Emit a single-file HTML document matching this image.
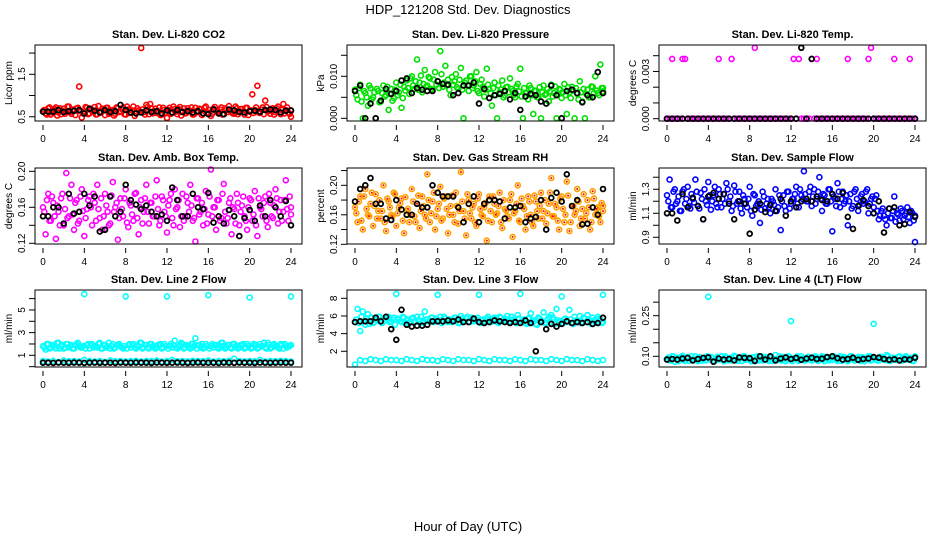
<!DOCTYPE html>
<html><head><meta charset="utf-8">
<style>
html,body{margin:0;padding:0;background:#fff;}
svg{display:block;font-family:"Liberation Sans",sans-serif;}
</style></head>
<body>
<svg id="chart" width="936" height="540" viewBox="0 0 936 540">
<text x="468" y="14" text-anchor="middle" font-size="13">HDP_121208  Std. Dev. Diagnostics</text>
<text x="468" y="531" text-anchor="middle" font-size="13">Hour of Day (UTC)</text>
</svg>
<script>
// ---- data ----
const xTicks = [0,4,8,12,16,20,24];

const co2Color = [0.63,0.58,0.70,0.55,0.66,0.72,0.60,0.56,0.69,0.62,0.74,0.57,0.65,0.70,1.21,0.48,0.63,0.71,0.58,0.66,0.73,0.56,0.62,0.69,0.54,0.71,0.60,0.66,0.57,0.70,0.63,0.72,0.55,0.67,0.60,0.74,0.58,0.65,2.12,0.61,0.78,0.56,0.70,0.63,0.59,0.72,0.55,0.66,0.47,0.71,0.60,0.68,0.56,0.73,0.62,0.58,0.70,0.64,0.55,0.71,0.61,0.67,0.57,0.74,0.60,0.52,0.69,0.63,0.58,0.72,0.56,0.66,0.75,0.60,0.57,0.70,0.63,0.68,0.55,0.71,0.62,1.03,0.66,1.23,0.59,0.72,0.88,0.64,0.57,0.70,0.61,0.74,0.56,0.80,0.66,0.60,0.50];
const co2Color2 = [0.66,0.55,0.72,0.60,0.68,0.53,0.70,0.64,0.57,0.74,0.61,0.67,0.54,0.71,0.63,0.58,0.73,0.56,0.69,0.62,0.55,0.75,0.60,0.66,0.71,0.57,0.64,0.53,0.72,0.61,0.68,0.56,0.74,0.59,0.65,0.52,0.70,0.62,0.67,0.55,0.73,0.80,0.58,0.69,0.63,0.54,0.71,0.60,0.66,0.57,0.74,0.62,0.68,0.53,0.70,0.59,0.65,0.72,0.56,0.63,0.69,0.54,0.71,0.60,0.66,0.57,0.73,0.62,0.67,0.55,0.70,0.61,0.64,0.58,0.74,0.56,0.68,0.62,0.71,0.54,0.65,0.59,0.72,0.60,0.67,0.56,0.73,0.63,0.69,0.55,0.70,0.61,0.66,0.58,0.72,0.57,0.64];
const co2Black = [0.62,0.62,0.62,0.66,0.61,0.63,0.64,0.66,0.58,0.69,0.64,0.60,0.66,0.61,0.63,0.78,0.66,0.60,0.58,0.60,0.65,0.61,0.63,0.58,0.65,0.60,0.66,0.61,0.63,0.60,0.63,0.58,0.56,0.67,0.58,0.56,0.67,0.65,0.61,0.60,0.63,0.64,0.62,0.66,0.67,0.66,0.60,0.64,0.65];
const co2Ticks = [0.5,1.0,1.5,2.0];
const co2Labels = ["0.5","","1.5",""];

const presColor = [0.0068,0.0045,0.0080,0.0000,0.0060,0.0030,0.0072,0.0050,0.0000,0.0065,0.0040,0.0078,0.0055,0.0020,0.0070,0.0048,0.0085,0.0062,0.0025,0.0075,0.0090,0.0058,0.0100,0.0070,0.0140,0.0085,0.0062,0.0115,0.0078,0.0095,0.0068,0.0110,0.0088,0.0160,0.0075,0.0125,0.0092,0.0055,0.0080,0.0105,0.0070,0.0120,0.0000,0.0090,0.0065,0.0100,0.0078,0.0110,0.0060,0.0092,0.0052,0.0118,0.0070,0.0030,0.0085,0.0000,0.0062,0.0090,0.0055,0.0075,0.0095,0.0065,0.0050,0.0082,0.0118,0.0000,0.0060,0.0045,0.0072,0.0010,0.0065,0.0050,0.0000,0.0078,0.0058,0.0040,0.0080,0.0060,0.0000,0.0070,0.0048,0.0082,0.0010,0.0062,0.0075,0.0000,0.0058,0.0088,0.0040,0.0000,0.0068,0.0050,0.0075,0.0100,0.0060,0.0128,0.0072];
const presColor2 = [0.0055,0.0072,0.0040,0.0065,0.0050,0.0078,0.0045,0.0062,0.0070,0.0038,0.0060,0.0052,0.0075,0.0058,0.0042,0.0068,0.0055,0.0080,0.0048,0.0066,0.0072,0.0095,0.0078,0.0088,0.0068,0.0102,0.0082,0.0075,0.0098,0.0070,0.0092,0.0080,0.0072,0.0105,0.0085,0.0078,0.0068,0.0098,0.0088,0.0074,0.0092,0.0068,0.0085,0.0078,0.0100,0.0072,0.0088,0.0065,0.0082,0.0075,0.0068,0.0080,0.0060,0.0072,0.0055,0.0078,0.0068,0.0050,0.0074,0.0062,0.0070,0.0056,0.0076,0.0064,0.0052,0.0072,0.0060,0.0078,0.0055,0.0066,0.0050,0.0074,0.0062,0.0056,0.0070,0.0064,0.0052,0.0076,0.0058,0.0068,0.0062,0.0055,0.0074,0.0048,0.0066,0.0072,0.0045,0.0062,0.0070,0.0058,0.0050,0.0076,0.0060,0.0066,0.0055,0.0072,0.0064];
const presBlack = [0.0065,0.0078,0.0000,0.0035,0.0000,0.0042,0.0070,0.0058,0.0065,0.0090,0.0095,0.0060,0.0072,0.0068,0.0065,0.0065,0.0088,0.0082,0.0080,0.0055,0.0060,0.0078,0.0078,0.0085,0.0035,0.0070,0.0048,0.0055,0.0058,0.0065,0.0045,0.0060,0.0020,0.0052,0.0058,0.0055,0.0040,0.0035,0.0078,0.0055,0.0000,0.0065,0.0068,0.0060,0.0038,0.0055,0.0050,0.0110,0.0060];
const presTicks = [0,0.005,0.010,0.015];
const presLabels = ["0.000","","0.010",""];

const tempColor = [0,0,0.0038,0,0,0,0.0038,0.0038,0,0,0,0,0,0,0,0,0,0,0,0,0.0038,0,0,0,0,0.0038,0,0,0,0,0,0,0,0,0.0045,0,0,0,0,0,0,0,0,0,0,0,0,0,0,0.0038,0,0.0038,0,0,0,0,0.0038,0,0.0038,0,0,0,0,0,0,0,0,0,0,0,0.0038,0,0,0,0,0,0,0,0.0038,0.0045,0,0,0,0,0,0,0,0,0.0038,0,0,0,0,0,0.0038,0,0];
const tempBlack = [0,0,0,0,0,0,0,0,0,0,0,0,0,0,0,0,0,0,0,0,0,0,0,0,0,0,0.0045,0,0.0038,0,0,0,0,0,0,0,0,0,0,0,0,0,0,0,0,0,0,0,0];
const tempTicks = [0,0.001,0.002,0.003,0.004];
const tempLabels = ["0.000","","","0.003",""];

const boxColor = [0.160,0.130,0.175,0.145,0.165,0.125,0.155,0.170,0.140,0.198,0.150,0.185,0.135,0.168,0.145,0.180,0.128,0.158,0.172,0.140,0.165,0.185,0.148,0.135,0.175,0.155,0.142,0.188,0.160,0.124,0.170,0.150,0.180,0.138,0.162,0.145,0.176,0.130,0.168,0.155,0.185,0.142,0.165,0.150,0.190,0.140,0.172,0.155,0.132,0.168,0.148,0.180,0.160,0.138,0.175,0.150,0.165,0.185,0.145,0.122,0.170,0.155,0.140,0.178,0.152,0.202,0.160,0.135,0.168,0.148,0.186,0.142,0.165,0.130,0.158,0.175,0.140,0.162,0.150,0.135,0.170,0.145,0.178,0.128,0.160,0.150,0.172,0.138,0.165,0.148,0.180,0.142,0.168,0.155,0.190,0.145,0.152];
const boxColor2 = [0.155,0.168,0.145,0.172,0.150,0.162,0.140,0.175,0.158,0.148,0.170,0.152,0.165,0.142,0.172,0.156,0.148,0.168,0.160,0.175,0.145,0.158,0.170,0.150,0.162,0.140,0.173,0.155,0.165,0.148,0.158,0.170,0.143,0.165,0.152,0.175,0.148,0.160,0.142,0.170,0.155,0.165,0.150,0.172,0.158,0.145,0.168,0.150,0.162,0.175,0.140,0.158,0.168,0.150,0.145,0.172,0.155,0.162,0.148,0.170,0.152,0.165,0.158,0.142,0.172,0.150,0.160,0.168,0.145,0.175,0.155,0.148,0.170,0.160,0.142,0.165,0.155,0.172,0.145,0.160,0.168,0.152,0.140,0.170,0.158,0.165,0.145,0.175,0.150,0.162,0.170,0.155,0.145,0.168,0.158,0.172,0.160];
const boxBlack = [0.150,0.150,0.160,0.160,0.142,0.175,0.153,0.155,0.175,0.162,0.172,0.133,0.135,0.172,0.150,0.155,0.185,0.168,0.163,0.158,0.162,0.155,0.150,0.152,0.145,0.182,0.168,0.150,0.150,0.175,0.160,0.158,0.176,0.143,0.150,0.142,0.157,0.150,0.128,0.148,0.157,0.145,0.162,0.150,0.168,0.160,0.150,0.167,0.140];
const boxTicks = [0.12,0.14,0.16,0.18,0.20];
const boxLabels = ["0.12","","0.16","","0.20"];

const rhColor = [0.170,0.150,0.185,0.140,0.195,0.160,0.175,0.145,0.188,0.165,0.155,0.200,0.138,0.178,0.160,0.190,0.145,0.170,0.182,0.135,0.165,0.150,0.195,0.158,0.175,0.142,0.185,0.160,0.215,0.150,0.178,0.140,0.168,0.198,0.155,0.185,0.135,0.172,0.160,0.190,0.148,0.218,0.165,0.132,0.180,0.155,0.175,0.145,0.188,0.160,0.170,0.125,0.185,0.150,0.175,0.162,0.190,0.142,0.168,0.158,0.180,0.130,0.165,0.200,0.150,0.172,0.140,0.185,0.160,0.145,0.178,0.155,0.190,0.165,0.148,0.175,0.210,0.158,0.170,0.140,0.185,0.150,0.205,0.138,0.172,0.160,0.195,0.145,0.168,0.155,0.180,0.140,0.192,0.160,0.170,0.150,0.165];
const rhColor2 = [0.162,0.178,0.152,0.185,0.168,0.158,0.190,0.172,0.155,0.180,0.165,0.150,0.182,0.170,0.158,0.188,0.162,0.176,0.152,0.184,0.168,0.160,0.178,0.150,0.186,0.165,0.172,0.155,0.180,0.162,0.190,0.158,0.175,0.152,0.182,0.168,0.160,0.186,0.150,0.172,0.165,0.178,0.155,0.188,0.162,0.170,0.150,0.182,0.168,0.158,0.176,0.152,0.165,0.185,0.160,0.172,0.150,0.180,0.166,0.155,0.188,0.162,0.175,0.152,0.182,0.168,0.158,0.178,0.150,0.186,0.165,0.172,0.155,0.180,0.162,0.190,0.158,0.175,0.152,0.182,0.168,0.160,0.186,0.150,0.172,0.165,0.178,0.155,0.188,0.162,0.170,0.150,0.182,0.168,0.158,0.176,0.172];
const rhBlack = [0.178,0.195,0.200,0.210,0.175,0.175,0.155,0.153,0.180,0.167,0.160,0.160,0.175,0.170,0.170,0.200,0.190,0.185,0.185,0.185,0.170,0.150,0.175,0.185,0.150,0.175,0.180,0.180,0.178,0.155,0.170,0.170,0.172,0.150,0.155,0.157,0.180,0.140,0.183,0.190,0.178,0.215,0.172,0.180,0.147,0.148,0.170,0.160,0.195];
const rhTicks = [0.12,0.14,0.16,0.18,0.20,0.22];
const rhLabels = ["0.12","","0.16","","0.20",""];

const flowColor = [1.25,1.38,1.15,1.30,1.20,1.12,1.28,1.18,1.32,1.14,1.22,1.38,1.16,1.27,1.05,1.20,1.36,1.13,1.25,1.18,1.30,1.15,1.26,1.35,1.20,1.12,1.33,1.18,1.28,1.10,1.22,1.15,1.32,1.08,1.25,1.18,1.02,1.28,1.14,1.22,1.10,1.20,1.30,1.15,0.96,1.25,1.12,1.28,1.18,1.22,1.32,1.15,1.25,1.45,1.20,1.28,1.16,1.30,1.22,1.40,1.12,1.25,1.18,1.30,0.95,1.22,1.35,1.15,1.28,1.20,1.00,1.26,1.16,1.30,1.12,1.24,1.18,1.28,1.10,1.22,1.15,1.25,1.05,1.12,1.08,1.00,1.14,1.06,1.24,1.10,1.04,1.12,1.08,1.15,1.02,1.10,0.86];
const flowColor2 = [1.20,1.15,1.28,1.18,1.24,1.12,1.30,1.22,1.16,1.26,1.19,1.28,1.14,1.22,1.30,1.17,1.25,1.20,1.32,1.15,1.26,1.22,1.18,1.30,1.24,1.16,1.28,1.20,1.14,1.25,1.18,1.22,1.12,1.26,1.16,1.20,1.13,1.24,1.18,1.15,1.22,1.17,1.12,1.25,1.20,1.16,1.28,1.14,1.22,1.26,1.18,1.30,1.22,1.26,1.20,1.32,1.24,1.18,1.28,1.22,1.26,1.18,1.30,1.20,1.24,1.16,1.28,1.22,1.18,1.25,1.20,1.14,1.28,1.22,1.17,1.26,1.20,1.30,1.18,1.24,1.22,1.12,1.08,1.14,1.05,1.10,1.06,1.12,1.03,1.09,1.14,1.05,1.10,1.07,1.12,1.04,1.08];
const flowBlack = [1.10,1.10,1.04,1.26,1.15,1.23,1.16,1.05,1.24,1.27,1.22,1.26,1.18,1.05,1.20,1.18,0.93,1.13,1.18,1.11,1.17,1.12,1.22,1.08,1.20,1.15,1.20,1.22,1.20,1.24,1.21,1.20,1.26,1.22,1.27,1.07,0.97,1.16,1.21,1.16,1.10,1.20,0.94,1.14,1.15,1.00,1.01,1.11,1.07];
const flowTicks = [0.9,1.0,1.1,1.2,1.3,1.4];
const flowLabels = ["0.9","","1.1","","1.3",""];

const l2Upper = [1.8,1.5,2.0,1.7,1.9,1.6,2.1,1.8,1.6,2.0,1.7,1.9,1.6,2.0,1.8,1.7,6.4,1.9,1.6,2.0,1.8,1.7,2.1,1.6,1.9,1.8,1.6,2.0,1.7,1.9,1.8,1.6,6.2,1.9,1.7,2.0,1.6,1.8,2.1,1.7,1.9,1.6,2.0,1.8,1.7,1.9,1.6,2.0,6.2,1.8,1.7,2.3,1.6,1.9,2.0,1.7,1.8,1.6,2.0,2.5,1.9,1.7,1.6,2.0,6.3,1.8,1.7,1.9,1.6,2.1,1.8,1.7,1.9,1.6,2.0,1.8,1.7,1.9,1.6,2.0,6.1,1.7,1.9,1.6,2.0,1.8,1.7,2.1,1.6,1.9,1.8,1.7,2.0,1.6,1.9,1.8,6.2];
const l2Upper2 = [1.7,2.0,1.6,1.9,1.8,2.1,1.6,1.9,1.7,2.0,1.8,1.6,1.9,2.1,1.7,1.8,1.6,2.0,1.9,1.7,1.8,2.0,1.6,1.9,1.7,2.1,1.8,1.6,1.9,2.0,1.7,1.8,1.6,2.0,1.9,1.7,1.8,2.1,1.6,1.9,1.7,2.0,1.8,1.6,1.9,2.0,1.7,1.8,1.6,2.0,1.9,1.7,1.8,2.1,1.6,1.9,1.7,2.0,1.8,1.6,1.9,2.0,1.7,1.8,1.6,2.0,1.9,1.7,1.8,2.1,1.6,1.9,1.7,2.0,1.8,1.6,1.9,2.0,1.7,1.8,1.6,2.0,1.9,1.7,1.8,2.1,1.6,1.9,1.7,2.0,1.8,1.6,1.9,2.0,1.7,1.8,1.9];
const l2Lower = [0.5,0.45,0.5,0.42,0.55,0.48,0.5,0.45,0.6,0.5,0.45,0.5,0.42,0.55,0.48,0.5,0.45,0.5,0.52,0.45,0.5,0.48,0.55,0.45,0.5,0.6,0.48,0.5,0.45,0.52,0.5,0.48,0.55,0.45,0.5,0.48,0.52,0.7,0.5,0.45,0.5,0.48,0.6,0.45,0.5,0.48,0.52,0.5,0.45];
const l2Black = [0.35,0.35,0.33,0.36,0.35,0.34,0.36,0.35,0.33,0.35,0.36,0.34,0.35,0.35,0.33,0.36,0.35,0.34,0.36,0.35,0.35,0.33,0.36,0.35,0.34,0.35,0.36,0.35,0.33,0.35,0.36,0.34,0.35,0.35,0.33,0.36,0.35,0.34,0.36,0.35,0.35,0.33,0.36,0.35,0.34,0.35,0.36,0.35,0.35];
const l2Ticks = [0,1,2,3,4,5,6];
const l2Labels = ["","1","","3","","5",""];

const l3Upper = [5.3,6.8,4.3,6.5,5.0,6.2,5.8,5.2,5.6,5.9,5.3,5.7,5.5,5.9,5.4,5.8,8.5,5.6,5.3,5.8,5.5,5.2,5.7,5.4,5.9,5.5,5.3,6.5,5.6,5.4,5.8,5.5,8.4,5.9,5.4,5.7,5.3,5.6,5.5,5.8,5.2,6.0,5.5,5.7,5.3,5.8,5.4,5.6,8.4,5.5,5.3,5.7,5.6,5.4,5.8,5.3,5.9,5.5,5.7,6.0,5.4,5.6,5.3,6.1,8.5,5.5,5.2,5.7,6.3,5.4,5.1,5.8,5.5,6.4,5.2,5.9,6.1,5.6,6.8,5.3,8.2,5.6,5.4,6.7,5.2,5.9,5.5,6.0,5.3,5.7,6.1,5.4,5.8,5.5,5.9,5.6,8.4];
const l3Upper2 = [5.6,5.2,5.9,5.4,5.7,5.1,5.8,5.3,5.6,5.9,5.2,5.5,5.8,5.3,5.6,5.0,5.7,5.4,5.9,5.2,5.6,5.4,5.8,5.3,5.5,5.9,5.2,5.6,5.4,5.8,5.3,5.7,5.5,5.2,5.9,5.4,5.6,5.3,5.8,5.5,5.2,5.7,5.4,5.9,5.3,5.6,5.5,5.8,5.2,5.6,5.4,5.9,5.3,5.7,5.5,5.2,5.8,5.4,5.6,5.3,5.9,5.5,5.2,5.7,5.4,5.6,5.1,5.8,5.3,5.5,5.0,5.7,5.4,5.2,5.6,5.3,5.8,5.1,5.5,5.4,5.2,5.7,5.3,5.6,5.1,5.5,5.4,5.2,5.8,5.3,5.6,5.1,5.5,5.4,5.7,5.2,5.3];
const l3Lower = [0.5,1.0,0.9,1.1,1.0,0.9,1.1,1.0,1.0,0.9,1.1,1.0,0.9,1.1,1.0,1.0,0.9,1.1,1.0,0.9,1.1,1.0,1.0,0.9,1.1,1.0,0.9,1.1,1.0,1.0,0.9,1.1,1.0,0.9,1.1,1.0,1.0,0.9,1.1,1.0,0.9,1.1,1.0,1.0,0.9,1.1,1.0,0.9,1.0];
const l3Black = [5.3,5.4,5.4,5.4,5.8,5.4,5.9,4.5,3.3,6.7,5.0,4.8,4.9,4.9,5.0,5.4,5.4,5.4,5.5,5.4,5.6,5.3,5.3,5.7,5.3,5.2,5.3,5.5,5.4,5.3,5.2,5.3,5.2,5.5,5.2,2.0,5.3,4.5,5.1,4.8,5.1,5.4,5.2,5.3,5.2,5.3,5.1,5.2,5.8];
const l3Ticks = [2,4,6,8];
const l3Labels = ["2","4","6","8"];

const l4Color = [0.09,0.085,0.1,0.08,0.095,0.088,0.102,0.083,0.097,0.09,0.086,0.1,0.082,0.095,0.09,0.085,0.32,0.098,0.083,0.092,0.088,0.1,0.082,0.095,0.09,0.085,0.102,0.088,0.094,0.083,0.1,0.09,0.087,0.096,0.082,0.1,0.09,0.085,0.098,0.088,0.094,0.083,0.105,0.09,0.086,0.097,0.082,0.1,0.23,0.088,0.095,0.083,0.1,0.09,0.086,0.098,0.084,0.095,0.09,0.087,0.1,0.082,0.094,0.09,0.086,0.098,0.083,0.1,0.089,0.094,0.082,0.1,0.09,0.086,0.097,0.083,0.095,0.088,0.1,0.084,0.22,0.09,0.085,0.098,0.088,0.105,0.083,0.095,0.09,0.086,0.1,0.084,0.097,0.088,0.094,0.083,0.1];
const l4Color2 = [0.095,0.085,0.1,0.09,0.082,0.098,0.088,0.094,0.083,0.1,0.09,0.086,0.097,0.084,0.092,0.1,0.088,0.095,0.082,0.098,0.09,0.086,0.1,0.084,0.094,0.088,0.098,0.083,0.092,0.1,0.087,0.095,0.082,0.097,0.09,0.085,0.1,0.088,0.094,0.083,0.098,0.09,0.086,0.1,0.084,0.093,0.088,0.097,0.082,0.094,0.1,0.087,0.092,0.084,0.098,0.09,0.086,0.1,0.083,0.095,0.088,0.097,0.085,0.092,0.1,0.087,0.094,0.083,0.098,0.09,0.086,0.1,0.084,0.093,0.088,0.097,0.082,0.095,0.1,0.087,0.092,0.084,0.098,0.09,0.086,0.1,0.083,0.095,0.088,0.097,0.085,0.092,0.1,0.087,0.094,0.083,0.098];
const l4Black = [0.088,0.09,0.088,0.092,0.094,0.085,0.09,0.094,0.096,0.08,0.092,0.088,0.09,0.085,0.096,0.094,0.093,0.083,0.1,0.088,0.1,0.085,0.092,0.096,0.09,0.094,0.087,0.092,0.095,0.09,0.091,0.097,0.1,0.093,0.088,0.09,0.095,0.087,0.09,0.092,0.097,0.095,0.09,0.087,0.089,0.085,0.089,0.088,0.095];
const l4Ticks = [0.10,0.15,0.20,0.25,0.30];
const l4Labels = ["0.10","","","0.25",""];

// ---- layout ----
const NS = "http://www.w3.org/2000/svg";
const svg = document.getElementById("chart");
const cols = [[35,302],[347,614],[659,926]];
const rows = [[45,121],[168,244],[290,367]];
const panels = [
 {key:"co2",title:"Stan. Dev. Li-820 CO2",ylab:"Licor ppm",c:0,r:0,dom:[0.40,2.19],ticks:co2Ticks,labels:co2Labels,series:[[co2Color,"#ff0000",0],[co2Color2,"#ff0000",0.5],[co2Black,"#000",0]]},
 {key:"pressure",title:"Stan. Dev. Li-820 Pressure",ylab:"kPa",c:1,r:0,dom:[-0.00064,0.01745],ticks:presTicks,labels:presLabels,series:[[presColor,"#00e000",0],[presColor2,"#00e000",0.5],[presBlack,"#000",0]]},
 {key:"temp",title:"Stan. Dev. Li-820 Temp.",ylab:"degrees C",c:2,r:0,dom:[-0.000147,0.00468],ticks:tempTicks,labels:tempLabels,series:[[tempColor,"#ff00ff",0],[tempBlack,"#000",0]]},
 {key:"box-temp",title:"Stan. Dev. Amb. Box Temp.",ylab:"degrees C",c:0,r:1,dom:[0.1192,0.2037],ticks:boxTicks,labels:boxLabels,series:[[boxColor,"#ff00ff",0],[boxColor2,"#ff00ff",0.5],[boxBlack,"#000",0]]},
 {key:"rh",title:"Stan. Dev. Gas Stream RH",ylab:"percent",c:1,r:1,dom:[0.1204,0.2235],ticks:rhTicks,labels:rhLabels,series:[[rhColor,"#ffa000",0],[rhColor2,"#ffa000",0.5],[rhBlack,"#000",0]]},
 {key:"sample-flow",title:"Stan. Dev. Sample Flow",ylab:"ml/min",c:2,r:1,dom:[0.844,1.477],ticks:flowTicks,labels:flowLabels,series:[[flowColor,"#0000ff",0],[flowColor2,"#0000ff",0.5],[flowBlack,"#000",0]]},
 {key:"line2",title:"Stan. Dev. Line 2 Flow",ylab:"ml/min",c:0,r:2,dom:[-0.03,6.76],ticks:l2Ticks,labels:l2Labels,series:[[l2Upper,"#00ffff",0],[l2Upper2,"#00ffff",0.5],[l2Lower,"#00ffff",0],[l2Black,"#000",0]]},
 {key:"line3",title:"Stan. Dev. Line 3 Flow",ylab:"ml/min",c:1,r:2,dom:[0.22,8.94],ticks:l3Ticks,labels:l3Labels,series:[[l3Upper,"#00ffff",0],[l3Upper2,"#00ffff",0.5],[l3Lower,"#00ffff",0],[l3Black,"#000",0]]},
 {key:"line4",title:"Stan. Dev. Line 4 (LT) Flow",ylab:"ml/min",c:2,r:2,dom:[0.0605,0.345],ticks:l4Ticks,labels:l4Labels,series:[[l4Color,"#00ffff",0],[l4Color2,"#00ffff",0.5],[l4Black,"#000",0]]}
];

function mk(tag, attrs, parent){
  const e = document.createElementNS(NS, tag);
  for (const k in attrs) e.setAttribute(k, attrs[k]);
  (parent||svg).appendChild(e);
  return e;
}

panels.forEach(p => {
  const [L,R] = cols[p.c], [T,B] = rows[p.r];
  const g = mk("g", {});
  
  
  const x0 = L + 8, x1 = R - 11;
  const xs = h => x0 + (h/24)*(x1-x0);
  const ys = v => B - (v - p.dom[0])/(p.dom[1]-p.dom[0])*(B-T);

  const t = mk("text", {x:(L+R)/2, y:T-7, "text-anchor":"middle", "font-size":"11", "font-weight":"bold"}, g);
  t.textContent = p.title;
  
  

  const yl = mk("text", {transform:`translate(${L-23},${(T+B)/2}) rotate(-90)`, "text-anchor":"middle", "font-size":"10"}, g);
  yl.textContent = p.ylab;
  
  

  p.series.forEach((s, si) => {
    const [vals, col, phase] = s;
    const black = col === "#000";
    const sg = mk("g", {fill:"none", stroke:col, "stroke-width": black ? "1.8" : "1.6"}, g);
    
    
    const n = vals.length;
    vals.forEach((v, i) => {
      const h = Math.min(24, (i + phase) * 24 / (n - 1));
      const cx = xs(h).toFixed(1), cy = ys(v).toFixed(1);
      const c = mk("circle", {cx:cx, cy:cy, r: black ? "2.4" : "2.5"}, sg);
      
      
      if (col === "#ffa000") {
        mk("circle", {cx:cx, cy:cy, r:"1", fill:"#ff0000", stroke:"none"}, sg);
      }
    });
  });

  const box = mk("rect", {x:L, y:T, width:R-L, height:B-T, fill:"none", stroke:"#000", "stroke-width":"1"}, g);
  
  

  const xa = mk("g", {}, g);
  
  
  xTicks.forEach(h => {
    mk("line", {x1:xs(h), x2:xs(h), y1:B+4, y2:B+9, stroke:"#000"}, xa);
    const tl = mk("text", {x:xs(h), y:B+21, "text-anchor":"middle", "font-size":"10"}, xa);
    tl.textContent = h;
  });

  const ya = mk("g", {}, g);
  
  
  p.ticks.forEach((v, i) => {
    const y = ys(v);
    mk("line", {x1:L-6, x2:L, y1:y, y2:y, stroke:"#000"}, ya);
    if (p.labels[i]) {
      const tl = mk("text", {transform:`translate(${L-10},${y}) rotate(-90)`, "text-anchor":"middle", "font-size":"10"}, ya);
      tl.textContent = p.labels[i];
    }
  });
});
</script>
</body></html>
